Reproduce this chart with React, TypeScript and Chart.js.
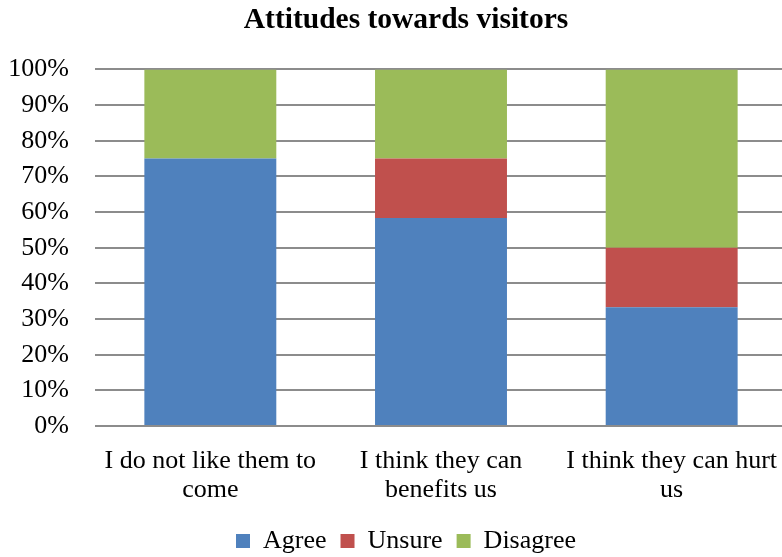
import React, { useEffect, useRef } from "react";
import { Chart, registerables } from "chart.js";

Chart.register(...registerables);

const categories: string[][] = [
  ["I do not like them to", "come"],
  ["I think they can", "benefits us"],
  ["I think they can hurt", "us"],
];
const agree = [75, 58.3, 33.3];
const unsure = [0, 16.7, 16.7];
const disagree = [25, 25, 50];
const yTicks = [0, 10, 20, 30, 40, 50, 60, 70, 80, 90, 100];

const FONT = "'Liberation Serif', 'Times New Roman', serif";
const BAR = 0.572;

export default function App() {
  const ref = useRef<HTMLCanvasElement | null>(null);
  useEffect(() => {
    if (!ref.current) return;
    const chart = new Chart(ref.current, {
      type: "bar",
      data: {
        labels: categories,
        datasets: [
          { label: "Agree", data: agree, backgroundColor: "#4F81BD", borderWidth: 0, categoryPercentage: 1, barPercentage: BAR },
          { label: "Unsure", data: unsure, backgroundColor: "#C0504D", borderWidth: 0, categoryPercentage: 1, barPercentage: BAR },
          { label: "Disagree", data: disagree, backgroundColor: "#9BBB59", borderWidth: 0, categoryPercentage: 1, barPercentage: BAR },
        ],
      },
      options: {
        animation: false,
        responsive: false,
        layout: { padding: { left: 0, right: 0, top: 3, bottom: 0 } },
        plugins: {
          title: {
            display: true,
            text: "Attitudes towards visitors",
            color: "#000",
            font: { family: FONT, size: 29.5, weight: "bold", lineHeight: 1.2 },
            padding: { top: 0, bottom: 31 },
          },
          legend: {
            position: "bottom",
            labels: {
              color: "#000",
              font: { family: FONT, size: 26 },
              boxWidth: 14,
              boxHeight: 14,
              padding: 14,
            },
          },
          tooltip: { enabled: false },
        },
        scales: {
          x: {
            stacked: true,
            afterFit: (s: any) => { s.height = 88; },
            grid: { display: false, drawTicks: false },
            border: { display: false },
            ticks: { color: "#000", font: { family: FONT, size: 26, lineHeight: 1.13 }, maxRotation: 0, autoSkip: false, padding: 20 },
          },
          y: {
            stacked: true,
            min: 0,
            max: 100,
            afterFit: (s: any) => { s.width = 95; },
            afterBuildTicks: (s: any) => { s.ticks = yTicks.map((v) => ({ value: v })); },
            grid: { color: "#8C8C8C", lineWidth: 2, drawTicks: false },
            border: { display: false },
            ticks: {
              color: "#000",
              font: { family: FONT, size: 26 },
              padding: 26,
              callback: (v: any) => v + "%",
            },
          },
          yRight: {
            type: "linear",
            position: "right",
            display: true,
            min: 0,
            max: 100,
            afterFit: (s: any) => { s.width = 25; },
            grid: { display: false, drawOnChartArea: false, drawTicks: false },
            border: { display: false },
            ticks: { display: false },
          },
        },
      },
    });
    return () => chart.destroy();
  }, []);
  return (
    <div style={{ position: "absolute", left: 0, top: 0, width: 782, height: 557, overflow: "hidden", background: "#fff" }}>
      <canvas ref={ref} width={812} height={564} style={{ display: "block" }} />
    </div>
  );
}
